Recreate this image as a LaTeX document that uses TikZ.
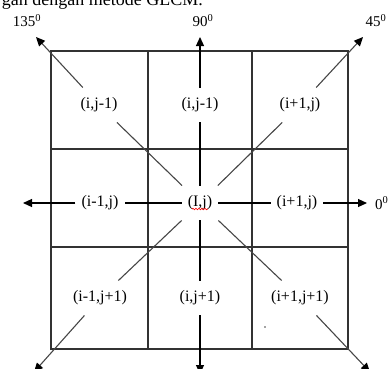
\documentclass[tikz,border=0pt]{standalone}
\usepackage{fontspec}
\setmainfont{Liberation Serif}
\usetikzlibrary{arrows.meta, positioning, calc, decorations.pathmorphing}
\definecolor{cGrid}{RGB}{50,50,50}
\definecolor{cDiag}{RGB}{70,70,70}
\tikzset{
	cell/.style   ={rectangle, inner xsep=6pt, inner ysep=10pt, font=\fontsize{16}{18}\selectfont, text=black},
	deg/.style    ={rectangle, inner sep=0pt, font=\fontsize{15}{17}\selectfont, text=black},
	gridline/.style={draw=cGrid, line width=1.2pt},
	diag/.style   ={draw=cDiag, line width=1.1pt},
	axis/.style   ={draw=black, line width=1.2pt},
	tip/.style    ={-{Triangle[length=9pt, width=8pt, color=black]}},
}

\begin{document}
\begin{tikzpicture}[x=1pt, y=-1pt]
	\useasboundingbox (0,0) rectangle (390,368);
	\clip (0,0) rectangle (390,368);
	% line of text cut by the top edge
	\node[anchor=base east, inner sep=0pt, font=\fontsize{18}{20}\selectfont] (cap) at (203,5) {gan dengan metode GLCM.};
	% 3x3 grid
	\draw[gridline] (51,51) rectangle (348,349);
	\foreach \x in {148,252} \draw[gridline] (\x,51) -- (\x,349);
	\foreach \y in {149,247} \draw[gridline] (51,\y) -- (348,\y);
	% cells
	\node[cell] (c)  at (200,203) {(I,j)};
	\node[cell] (nw) at (99,105)  {(i,j-1)};
	\node[cell] (n)  at (200,105) {(i,j-1)};
	\node[cell] (ne) at (300,105) {(i+1,j)};
	\node[cell] (w)  at (100,203) {(i-1,j)};
	\node[cell] (e)  at (297,203) {(i+1,j)};
	\node[cell] (sw) at (100,298) {(i-1,j+1)};
	\node[cell] (s)  at (200,298) {(i,j+1)};
	\node[cell] (se) at (300,298) {(i+1,j+1)};
	% arrow ends
	\coordinate (t135) at (36,37);
	\coordinate (t90)  at (200,37);
	\coordinate (t45)  at (363,37);
	\coordinate (t0)   at (367,203);
	\coordinate (t180) at (23,203);
	\coordinate (t225) at (34,372);
	\coordinate (t270) at (200,374);
	\coordinate (t315) at (370,372);
	% angle labels
	\node[deg, above=10pt of t135, xshift=-9pt] (d135) {135\textsuperscript{0}};
	\node[deg, above=10pt of t90, xshift=3pt]   (d90)  {90\textsuperscript{0}};
	\node[deg, above=10pt of t45, xshift=13pt]  (d45)  {45\textsuperscript{0}};
	\node[deg, right=8pt of t0]                 (d0)   {0\textsuperscript{0}};
	% centre to neighbours
	\draw[axis] (c) -- (n);
	\draw[axis] (c) -- (s);
	\draw[axis] (c) -- (w);
	\draw[axis] (c) -- (e);
	\draw[diag] (c) -- (nw);
	\draw[diag] (c) -- (ne);
	\draw[diag] (c) -- (sw);
	\draw[diag] (c) -- (se);
	% neighbours outwards
	\draw[axis, tip] (n) -- (t90);
	\draw[axis, tip] (s) -- (t270);
	\draw[axis, tip] (w) -- (t180);
	\draw[axis, tip] (e) -- (t0);
	\draw[diag, tip] (nw) -- (t135);
	\draw[diag, tip] (ne) -- (t45);
	\draw[diag, tip] (sw) -- (t225);
	\draw[diag, tip] (se) -- (t315);
	% spell-check mark and stray dot
	\draw[red, line width=0.6pt, decorate, decoration={snake, amplitude=0.8pt, segment length=3pt}]
		($(c.center)+(-8,6)$) -- ($(c.center)+(8,6)$);
	\fill[cDiag] (265,327) circle (0.8);
\end{tikzpicture}
\end{document}
